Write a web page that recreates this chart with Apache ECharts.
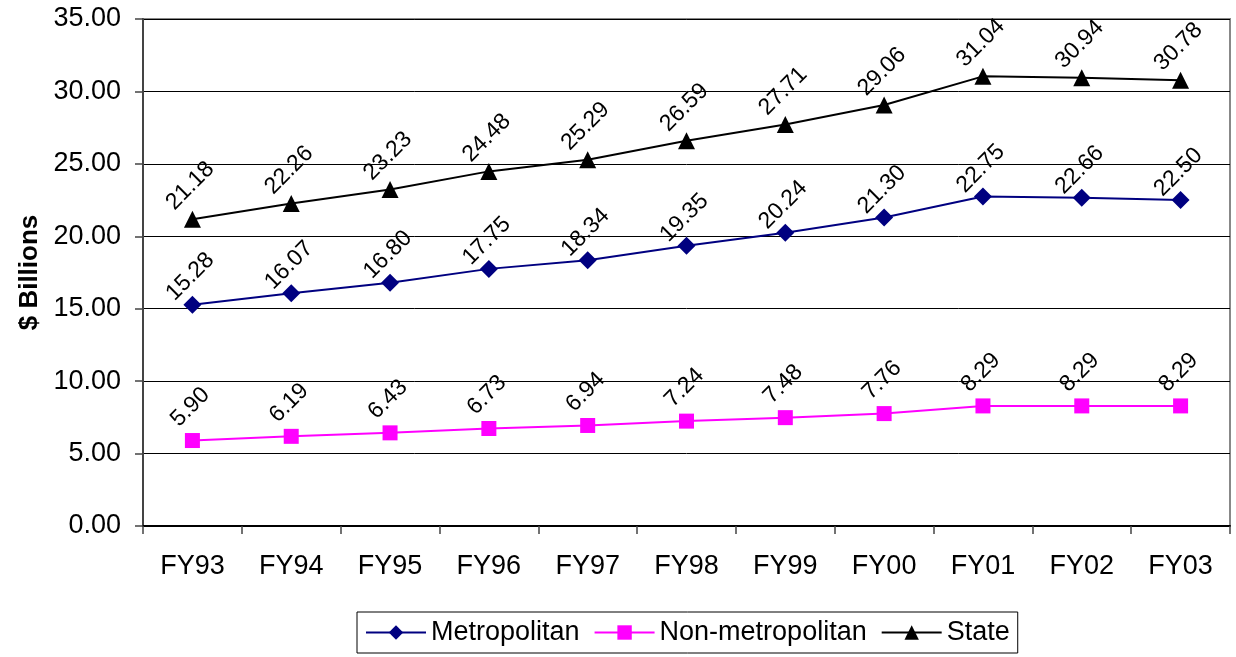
<!DOCTYPE html>
<html>
<head>
<meta charset="utf-8">
<script src="https://cdn.jsdelivr.net/npm/echarts@6/dist/echarts.min.js"></script>
<style>html,body{margin:0;padding:0;background:#fff;}#c{width:1236px;height:657px;}</style>
</head>
<body>
<div id="c"></div>
<script>
const categories = ['FY93','FY94','FY95','FY96','FY97','FY98','FY99','FY00','FY01','FY02','FY03'];
const metropolitan = [15.28,16.07,16.80,17.75,18.34,19.35,20.24,21.30,22.75,22.66,22.50];
const nonMetropolitan = [5.90,6.19,6.43,6.73,6.94,7.24,7.48,7.76,8.29,8.29,8.29];
const state = [21.18,22.26,23.23,24.48,25.29,26.59,27.71,29.06,31.04,30.94,30.78];
const yTicks = {min: 0, max: 35, interval: 5};

const FONT = '"Liberation Sans", Arial, sans-serif';
function labelCfg(dist) {
  return {
    show: true, position: 'top', rotate: 45, distance: dist,
    align: 'center', verticalAlign: 'middle', offset: [-3, 0],
    fontFamily: FONT, fontSize: 23, color: '#000',
    formatter: p => p.value.toFixed(2)
  };
}
function mk(name, data, color, symbol, size, dist) {
  return {
    name, type: 'line', data, symbol, symbolSize: size,
    lineStyle: {color, width: 2}, itemStyle: {color},
    label: labelCfg(dist), animation: false
  };
}
const chart = echarts.init(document.getElementById('c'));
chart.setOption({
  animation: false,
  grid: {left: 143, right: 6, top: 19, bottom: 131, outerBoundsMode: 'none', containLabel: false, show: true, borderColor: '#888', borderWidth: 2, backgroundColor: '#fff'},
  xAxis: {
    type: 'category', data: categories, boundaryGap: true,
    axisLine: {lineStyle: {color: '#000', width: 2}},
    axisTick: {show: true, length: 8, lineStyle: {color: '#444', width: 1.5}},
    axisLabel: {fontFamily: FONT, fontSize: 27, color: '#000', margin: 27}
  },
  yAxis: {
    type: 'value', min: yTicks.min, max: yTicks.max, interval: yTicks.interval,
    name: '$ Billions', nameLocation: 'middle', nameGap: 100,
    nameTextStyle: {fontFamily: FONT, fontSize: 26, fontWeight: 'bold', color: '#000'},
    axisLine: {show: true, lineStyle: {color: '#444', width: 2}},
    axisTick: {show: true, length: 8, lineStyle: {color: '#444', width: 1.5}},
    axisLabel: {fontFamily: FONT, fontSize: 27, color: '#000', margin: 22, formatter: v => v.toFixed(2)},
    splitLine: {lineStyle: {color: '#000', width: 1}}
  },
  legend: {
    left: 357, top: 612, width: 700,
    data: ['Metropolitan','Non-metropolitan','State'],
    backgroundColor: '#fff', borderColor: '#000', borderWidth: 1,
    padding: [7, 8], itemGap: 14, itemWidth: 60, itemHeight: 18,
    textStyle: {fontFamily: FONT, fontSize: 27, color: '#000'}
  },
  series: [
    mk('Metropolitan', metropolitan, '#000080', 'diamond', 18, 21),
    mk('Non-metropolitan', nonMetropolitan, '#FF00FF', 'rect', 15, 28),
    mk('State', state, '#000000', 'triangle', 17, 27)
  ]
});
</script>
</body>
</html>
